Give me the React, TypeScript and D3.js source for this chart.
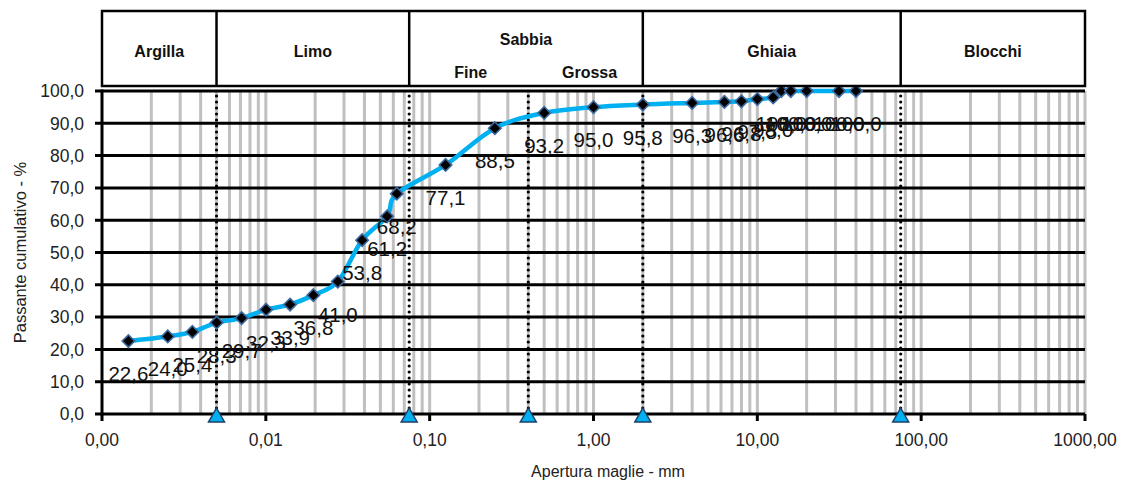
import React from 'react';
import * as d3 from 'd3';

// grain size analysis (mm) and cumulative passing (%)
const sizes = [0.00145, 0.00252, 0.00356, 0.00501, 0.00712, 0.01003, 0.01406, 0.0195, 0.0275, 0.0387,
  0.055, 0.063, 0.125, 0.25, 0.5, 1, 2, 4, 6.3, 8, 10, 12.5, 14, 16, 20, 31.5, 40];
const passing = [22.6, 24.0, 25.4, 28.3, 29.7, 32.3, 33.9, 36.8, 41.0, 53.8,
  61.2, 68.2, 77.1, 88.5, 93.2, 95.0, 95.8, 96.3, 96.6, 96.8, 97.5, 98.0, 100, 100, 100, 100, 100];

// class limits (mm)
const limits = [0.005, 0.075, 0.4, 2, 75];
const classNames = ['Argilla', 'Limo', 'Sabbia', 'Ghiaia', 'Blocchi'];
const classBounds = [0.001, 0.005, 0.075, 2, 75, 1000];
const sandNames = ['Fine', 'Grossa'];
const sandBounds = [0.075, 0.4, 2];

const yTicks = [0, 10, 20, 30, 40, 50, 60, 70, 80, 90, 100];
const xDecades = [0.001, 0.01, 0.1, 1, 10, 100, 1000];

const W = 1122;
const H = 482;
const m = { left: 102, right: 37, top: 91, bottom: 68 };
const headTop = 11;
const headBottom = 86;
const font = 'Liberation Sans, Arial, sans-serif';

const comma = (f: string) => (v: number) => d3.format(f)(v).replace('.', ',');
const f1 = comma('.1f');
const f2 = comma('.2f');

export default function App() {
  const x = d3.scaleLog().domain([0.001, 1000]).range([m.left, W - m.right]);
  const y = d3.scaleLinear().domain([0, 100]).range([H - m.bottom, m.top]);

  const pts = sizes.map((s, i) => ({ s, p: passing[i] }));
  const lineGen = d3.line<{ s: number; p: number }>()
    .x(d => x(d.s))
    .y(d => y(d.p))
    .curve(d3.curveCardinal.tension(0));

  const diamond = d3.symbol(d3.symbolSquare, 78)();
  const gridX = x.ticks().filter(v => v > 0.0011);

  return (
    <svg width={W} height={H} style={{ position: 'fixed', left: 0, top: 0, background: '#fff' }}
      fontFamily={font}>
      <rect width={W} height={H} fill="#fff" />

      {/* vertical minor grid */}
      {gridX.map((v, i) => (
        <line key={'gx' + i} x1={x(v)} x2={x(v)} y1={y(0)} y2={y(100)} stroke="#c0c0c0" strokeWidth={3} />
      ))}

      {/* horizontal grid */}
      {yTicks.map(t => (
        <line key={'gy' + t} x1={m.left - 7} x2={W - m.right} y1={y(t)} y2={y(t)} stroke="#000" strokeWidth={3} />
      ))}

      {/* class limit lines */}
      {limits.map(l => (
        <line key={'lim' + l} x1={x(l)} x2={x(l)} y1={y(0)} y2={y(100)} stroke="#000" strokeWidth={3.2}
          strokeDasharray="0 6" strokeLinecap="round" />
      ))}

      {/* axes */}
      <line x1={m.left} x2={m.left} y1={y(0) + 1.5} y2={y(100) - 1.5} stroke="#000" strokeWidth={3} />
      {xDecades.map(d => (
        <line key={'xt' + d} x1={x(d)} x2={x(d)} y1={y(0)} y2={y(0) + 7} stroke="#000" strokeWidth={3} />
      ))}

      {yTicks.map(t => (
        <text key={'yl' + t} x={m.left - 18} y={y(t)} dy="0.36em" textAnchor="end" fontSize={17.5} fill="#222">
          {f1(t)}
        </text>
      ))}
      {xDecades.map(d => (
        <text key={'xl' + d} x={x(d)} y={y(0) + 32} textAnchor="middle" fontSize={17.5} fill="#222">
          {f2(d)}
        </text>
      ))}

      <text transform={`translate(20,${(y(0) + y(100)) / 2}) rotate(-90)`} dy="0.35em" textAnchor="middle"
        fontSize={16.5} fill="#222">Passante cumulativo - %</text>
      <text x={608} y={H - 5} textAnchor="middle" fontSize={16} fill="#222">Apertura maglie - mm</text>

      {/* curve */}
      <path d={lineGen(pts) || ''} fill="none" stroke="#00b0f0" strokeWidth={4.5} strokeLinejoin="round" />
      {pts.map((d, i) => (
        <path key={'mk' + i} d={diamond || ''} transform={`translate(${x(d.s)},${y(d.p)}) rotate(45)`}
          fill="#000" stroke="#3b6aa0" strokeWidth={1.6} />
      ))}

      {/* limit markers */}
      {limits.map(l => (
        <path key={'tri' + l} d="M0,-7 L8,7 L-8,7 Z" transform={`translate(${x(l)},${y(0) + 1})`}
          fill="#00b0f0" stroke="#1f3f66" strokeWidth={1.5} />
      ))}

      {/* data labels */}
      {pts.map((d, i) => (
        <text key={'dl' + i} x={x(d.s)} y={y(d.p) + 40} textAnchor="middle" fontSize={20.5} fill="#111">
          {f1(d.p)}
        </text>
      ))}

      {/* classification header */}
      <g>
        <rect x={x(classBounds[0])} y={headTop} width={x(classBounds[classBounds.length - 1]) - x(classBounds[0])}
          height={headBottom - headTop} fill="#fff" stroke="#000" strokeWidth={2.5} />
        {classBounds.slice(1, -1).map(b => (
          <line key={'hb' + b} x1={x(b)} x2={x(b)} y1={headTop} y2={headBottom} stroke="#000" strokeWidth={2.5} />
        ))}
        {classNames.map((n, i) => {
          const cx = (x(classBounds[i]) + x(classBounds[i + 1])) / 2;
          const cy = n === 'Sabbia' ? 39 : 51;
          return (
            <text key={'hn' + n} x={cx} y={cy} dy="0.35em" textAnchor="middle" fontSize={16} fontWeight="bold" fill="#111">
              {n}
            </text>
          );
        })}
        {sandNames.map((n, i) => (
          <text key={'sn' + n} x={(x(sandBounds[i]) + x(sandBounds[i + 1])) / 2 + (i === 1 ? 4 : 2)} y={72} dy="0.35em"
            textAnchor="middle" fontSize={16} fontWeight="bold" fill="#111">{n}</text>
        ))}
      </g>
    </svg>
  );
}
